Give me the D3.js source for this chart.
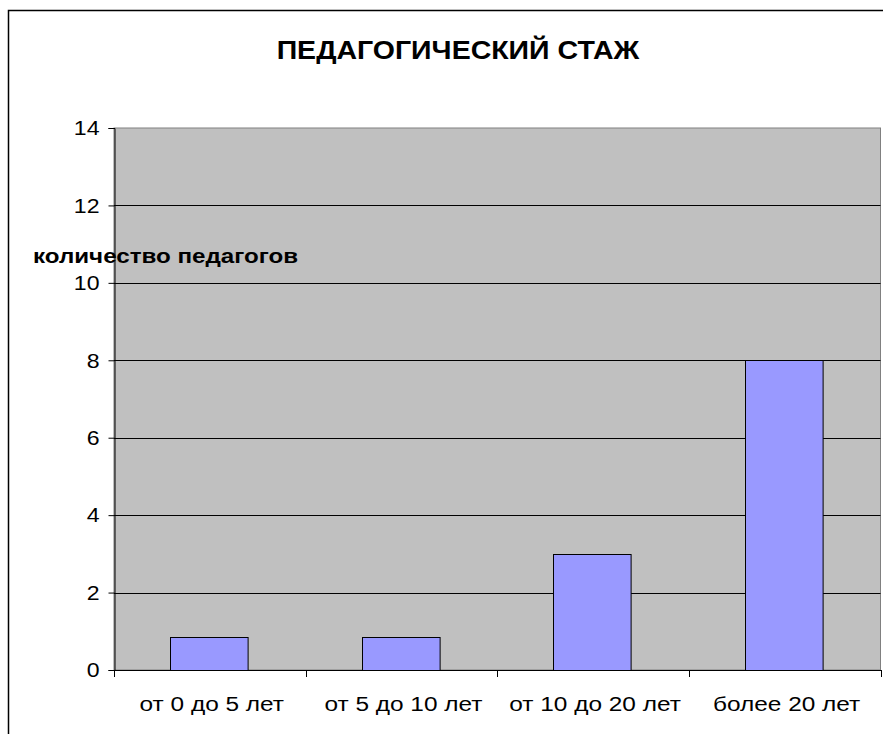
<!DOCTYPE html>
<html>
<head>
<meta charset="utf-8">
<script src="https://cdn.jsdelivr.net/npm/d3@7"></script>
<style>
  body { margin: 0; background: #fff; }
  text { font-family: Arial, "Liberation Sans", sans-serif; }
</style>
</head>
<body>
<div id="chart"></div>
<script>
// chart data
var categories = ["от 0 до 5 лет", "от 5 до 10 лет", "от 10 до 20 лет", "более 20 лет"];
var values = [0.85, 0.85, 3, 8];
var yTicks = [0, 2, 4, 6, 8, 10, 12, 14];

var width = 883;
var height = 734;
var margin = {top: 128, right: 2, bottom: 64, left: 114};

// the original's text is a bit wider than Liberation Sans, so stretch it
function stretch(sel, k) {
  sel.each(function() {
    var w = this.getComputedTextLength();
    d3.select(this)
      .attr("textLength", w * k)
      .attr("lengthAdjust", "spacingAndGlyphs");
  });
}

var svg = d3.select("#chart")
  .append("svg")
    .attr("width", width)
    .attr("height", height);

// outer frame of the chart object (cut off at right and bottom)
svg.append("rect")
  .attr("x", 8.5)
  .attr("y", 10.5)
  .attr("width", 1000)
  .attr("height", 1000)
  .style("fill", "none")
  .style("stroke", "#000")
  .style("stroke-width", 1.5);

var x = d3.scaleBand()
  .domain(categories)
  .range([margin.left, width - margin.right - 0.5])
  .padding(0);

var y = d3.scaleLinear()
  .domain([0, 14])
  .range([height - margin.bottom, margin.top]);

// plot area
svg.append("rect")
  .attr("x", margin.left)
  .attr("y", y(14))
  .attr("width", x.range()[1] - margin.left)
  .attr("height", y(0) - y(14))
  .style("fill", "#c0c0c0")
  .style("stroke", "#808080")
  .style("stroke-width", 1);

// gridlines
svg.append("g")
  .selectAll("line")
  .data(yTicks.filter(function(d) { return d > 0 && d < 14; }))
  .enter()
  .append("line")
    .attr("x1", margin.left)
    .attr("x2", x.range()[1])
    .attr("y1", function(d) { return Math.round(y(d)) + 0.5; })
    .attr("y2", function(d) { return Math.round(y(d)) + 0.5; })
    .style("stroke", "#000")
    .style("stroke-width", 1);

// bars
var barW = x.bandwidth() * 0.405;
svg.append("g")
  .selectAll("rect")
  .data(values)
  .enter()
  .append("rect")
    .attr("x", function(d, i) { return Math.round(x(categories[i]) + (x.bandwidth() - barW) / 2) - 0.5; })
    .attr("y", function(d) { return Math.round(y(d)) + 0.5; })
    .attr("width", barW)
    .attr("height", function(d) { return Math.round(y(0)) - Math.round(y(d)); })
    .style("fill", "#9999ff")
    .style("stroke", "#000")
    .style("stroke-width", 1);

// y axis
var yAxis = svg.append("g")
  .attr("transform", "translate(" + (margin.left + 0.5) + ",0)")
  .call(d3.axisLeft(y).tickValues(yTicks).tickSize(6).tickPadding(9).tickFormat(d3.format("d")));
yAxis.selectAll("text")
  .style("font-size", "21px")
  .style("fill", "#000")
  .call(stretch, 1.1);
yAxis.selectAll("line, path").style("stroke", "#000");

// x axis: ticks at category boundaries
svg.append("line")
  .attr("x1", margin.left)
  .attr("x2", x.range()[1] + 0.5)
  .attr("y1", Math.round(y(0)) + 0.5)
  .attr("y2", Math.round(y(0)) + 0.5)
  .style("stroke", "#000");

var bounds = categories.map(function(c) { return x(c); }).concat([x.range()[1]]);
svg.append("g")
  .selectAll("line")
  .data(bounds)
  .enter()
  .append("line")
    .attr("x1", function(d) { return Math.round(d) + 0.5; })
    .attr("x2", function(d) { return Math.round(d) + 0.5; })
    .attr("y1", y(0))
    .attr("y2", y(0) + 7)
    .style("stroke", "#000");

svg.append("g")
  .selectAll("text")
  .data(categories)
  .enter()
  .append("text")
    .attr("x", function(d) { return x(d) + x.bandwidth() / 2 + 2; })
    .attr("y", 711)
    .attr("text-anchor", "middle")
    .style("font-size", "20.5px")
    .text(function(d) { return d; })
    .call(stretch, 1.19);

// title
svg.append("text")
  .attr("x", 458)
  .attr("y", 59)
  .attr("text-anchor", "middle")
  .style("font-size", "25px")
  .style("font-weight", "bold")
  .text("ПЕДАГОГИЧЕСКИЙ СТАЖ")
  .call(stretch, 1.14);

// y axis title (placed horizontally, as in the original)
svg.append("text")
  .attr("x", 33)
  .attr("y", 263)
  .style("font-size", "21px")
  .style("font-weight", "bold")
  .text("количество педагогов")
  .call(stretch, 1.15);
</script>
</body>
</html>
